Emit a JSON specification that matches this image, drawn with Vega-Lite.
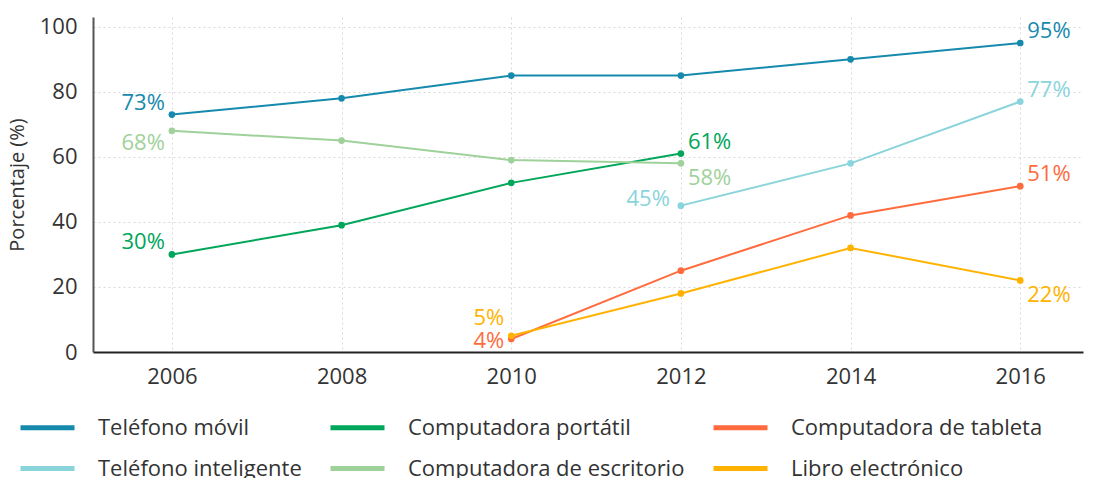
{
  "$schema": "https://vega.github.io/schema/vega-lite/v6.json",
  "width": 990,
  "height": 335,
  "autosize": "none",
  "padding": {"left": 93, "top": 17, "right": 11, "bottom": 126},
  "background": "white",
  "config": {
    "font": "Open Sans",
    "view": {"stroke": null},
    "axis": {"labelFont": "Open Sans", "titleFont": "Open Sans", "labelColor": "#333", "titleColor": "#333", "labelFontSize": 22, "ticks": false, "gridColor": "#d9d9d9", "gridDash": [2, 3], "gridWidth": 1},
    "text": {"font": "Open Sans", "fontSize": 22}
  },
  "data": {
    "values": [
      {"serie": "Teléfono móvil", "year": 2006, "value": 73},
      {"serie": "Teléfono móvil", "year": 2008, "value": 78},
      {"serie": "Teléfono móvil", "year": 2010, "value": 85},
      {"serie": "Teléfono móvil", "year": 2012, "value": 85},
      {"serie": "Teléfono móvil", "year": 2014, "value": 90},
      {"serie": "Teléfono móvil", "year": 2016, "value": 95},
      {"serie": "Computadora portátil", "year": 2006, "value": 30},
      {"serie": "Computadora portátil", "year": 2008, "value": 39},
      {"serie": "Computadora portátil", "year": 2010, "value": 52},
      {"serie": "Computadora portátil", "year": 2012, "value": 61},
      {"serie": "Computadora de tableta", "year": 2010, "value": 4},
      {"serie": "Computadora de tableta", "year": 2012, "value": 25},
      {"serie": "Computadora de tableta", "year": 2014, "value": 42},
      {"serie": "Computadora de tableta", "year": 2016, "value": 51},
      {"serie": "Teléfono inteligente", "year": 2012, "value": 45},
      {"serie": "Teléfono inteligente", "year": 2014, "value": 58},
      {"serie": "Teléfono inteligente", "year": 2016, "value": 77},
      {"serie": "Computadora de escritorio", "year": 2006, "value": 68},
      {"serie": "Computadora de escritorio", "year": 2008, "value": 65},
      {"serie": "Computadora de escritorio", "year": 2010, "value": 59},
      {"serie": "Computadora de escritorio", "year": 2012, "value": 58},
      {"serie": "Libro electrónico", "year": 2010, "value": 5},
      {"serie": "Libro electrónico", "year": 2012, "value": 18},
      {"serie": "Libro electrónico", "year": 2014, "value": 32},
      {"serie": "Libro electrónico", "year": 2016, "value": 22}
    ]
  },
  "transform": [{"calculate": "datum.value + '%'", "as": "etiqueta"}],
  "encoding": {
    "x": {"field": "year", "type": "quantitative",
      "scale": {"domain": [2005.07, 2016.74], "nice": false, "zero": false},
      "axis": {"values": [2006, 2008, 2010, 2012, 2014, 2016], "format": "d", "title": null, "labelPadding": 14, "domainColor": "#222", "domainWidth": 2}},
    "y": {"field": "value", "type": "quantitative",
      "scale": {"domain": [0, 103], "nice": false},
      "axis": {"values": [0, 20, 40, 60, 80, 100], "title": "Porcentaje (%)", "titleFontSize": 20, "titleFontWeight": "normal", "titlePadding": 12, "labelPadding": 16, "domainColor": "#555", "domainWidth": 2}},
    "color": {"field": "serie", "type": "nominal",
      "scale": {
        "domain": ["Teléfono móvil", "Computadora portátil", "Computadora de tableta", "Teléfono inteligente", "Computadora de escritorio", "Libro electrónico"],
        "range": ["#168aad", "#00a65a", "#ff6b3d", "#8ad4dc", "#9fd19a", "#ffb300"]
      }}
  },
  "layer": [
    {
      "mark": {"type": "line", "strokeWidth": 2},
      "encoding": {
        "detail": {"field": "serie"},
        "color": {"field": "serie", "type": "nominal",
          "legend": {"orient": "none", "legendX": -75, "legendY": 381, "columns": 3, "direction": "horizontal", "title": null,
            "symbolType": "stroke", "symbolSize": 2916, "symbolStrokeWidth": 5, "labelFontSize": 22, "labelFont": "Open Sans", "labelColor": "#333",
            "labelOffset": 21, "columnPadding": 18, "rowPadding": -12, "labelLimit": 400}}
      }
    },
    {"mark": {"type": "point", "filled": true, "size": 45, "opacity": 1}},
    {
      "transform": [{"filter": "(datum.serie == 'Teléfono móvil' && datum.year == 2006) || (datum.serie == 'Computadora portátil' && datum.year == 2006)"}],
      "mark": {"type": "text", "align": "right", "baseline": "middle", "dx": -7, "dy": -12},
      "encoding": {"text": {"field": "etiqueta"}, "color": {"field": "serie", "type": "nominal", "legend": null}}
    },
    {
      "transform": [{"filter": "datum.serie == 'Computadora de escritorio' && datum.year == 2006"}],
      "mark": {"type": "text", "align": "right", "baseline": "middle", "dx": -7, "dy": 12},
      "encoding": {"text": {"field": "etiqueta"}, "color": {"field": "serie", "type": "nominal", "legend": null}}
    },
    {
      "transform": [{"filter": "datum.serie == 'Teléfono inteligente' && datum.year == 2012"}],
      "mark": {"type": "text", "align": "right", "baseline": "middle", "dx": -11, "dy": -7},
      "encoding": {"text": {"field": "etiqueta"}, "color": {"field": "serie", "type": "nominal", "legend": null}}
    },
    {
      "transform": [{"filter": "(datum.serie == 'Libro electrónico' && datum.year == 2010)"}],
      "mark": {"type": "text", "align": "right", "baseline": "middle", "dx": -7, "dy": -18},
      "encoding": {"text": {"field": "etiqueta"}, "color": {"field": "serie", "type": "nominal", "legend": null}}
    },
    {
      "transform": [{"filter": "(datum.serie == 'Computadora de tableta' && datum.year == 2010)"}],
      "mark": {"type": "text", "align": "right", "baseline": "middle", "dx": -7, "dy": 2},
      "encoding": {"text": {"field": "etiqueta"}, "color": {"field": "serie", "type": "nominal", "legend": null}}
    },
    {
      "transform": [{"filter": "(datum.serie == 'Computadora portátil' && datum.year == 2012) || (datum.year == 2016 && datum.serie != 'Libro electrónico')"}],
      "mark": {"type": "text", "align": "left", "baseline": "middle", "dx": 7, "dy": -12},
      "encoding": {"text": {"field": "etiqueta"}, "color": {"field": "serie", "type": "nominal", "legend": null}}
    },
    {
      "transform": [{"filter": "(datum.serie == 'Computadora de escritorio' && datum.year == 2012) || (datum.serie == 'Libro electrónico' && datum.year == 2016)"}],
      "mark": {"type": "text", "align": "left", "baseline": "middle", "dx": 7, "dy": 15},
      "encoding": {"text": {"field": "etiqueta"}, "color": {"field": "serie", "type": "nominal", "legend": null}}
    }
  ]
}
